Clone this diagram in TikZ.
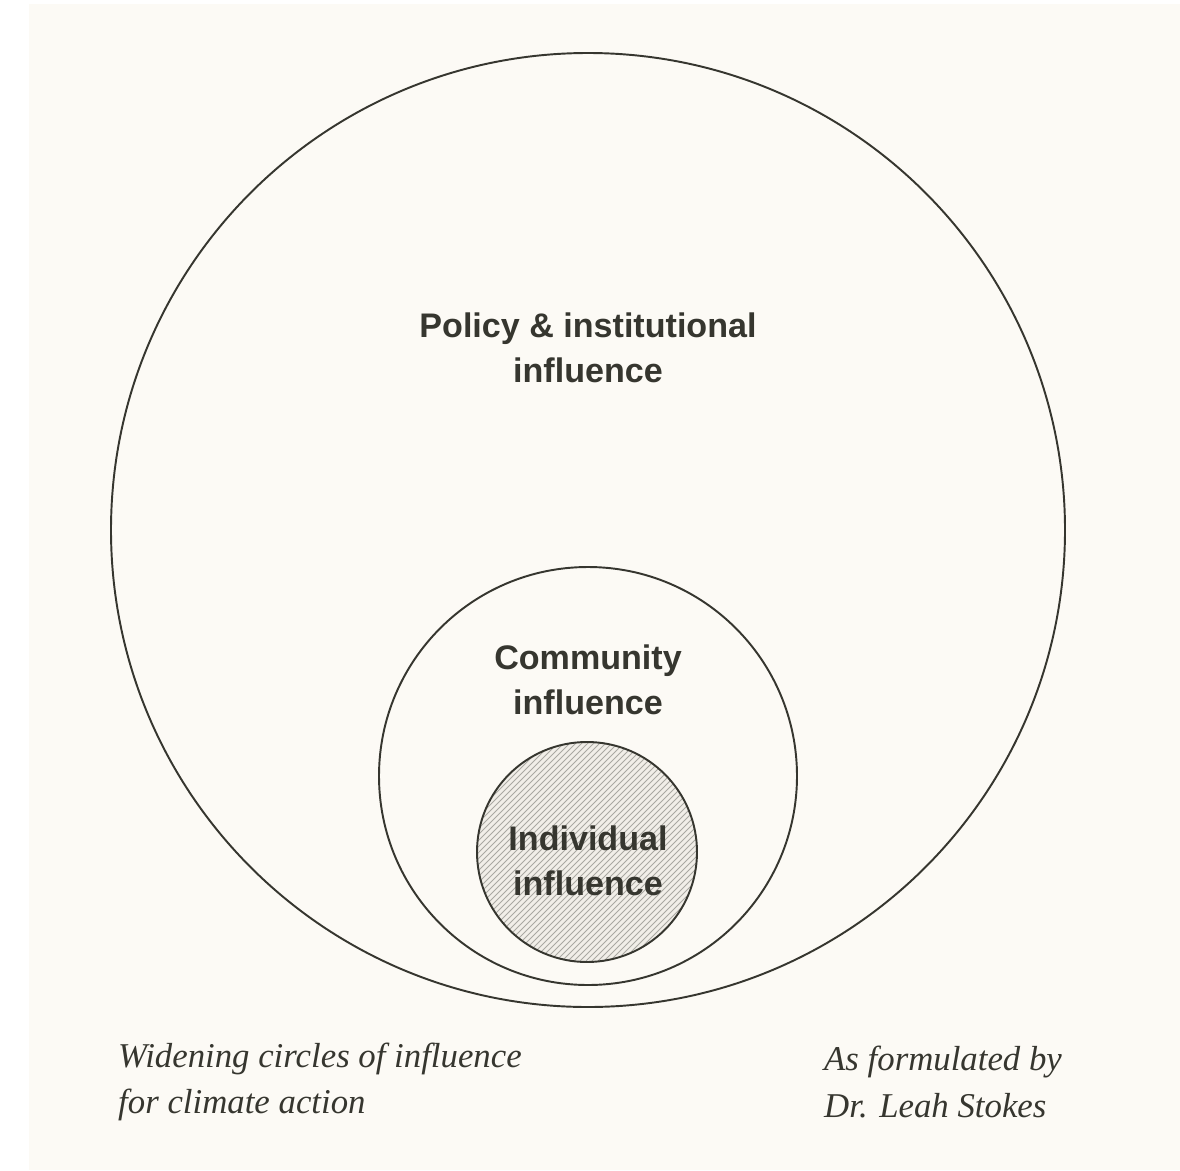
\documentclass[tikz,border=0pt]{standalone}
\usepackage{fontspec}
\setmainfont{Liberation Serif}
\setsansfont{Liberation Sans}
\definecolor{paper}{HTML}{FCFAF5}
\definecolor{ink}{HTML}{36362F}
\definecolor{hatchbg}{HTML}{F1EEE8}
\definecolor{hatchln}{HTML}{A9A8A2}
\begin{document}
\begin{tikzpicture}[x=0.02cm,y=-0.02cm,
	ring/.style={draw=ink,line width=1.1pt},
	lbl/.style={align=center,text=ink,font=\sffamily\bfseries\fontsize{19.4}{25.5}\selectfont},
	note/.style={align=left,anchor=west,text=ink,font=\itshape\fontsize{19.8}{26.6}\selectfont}]
	\useasboundingbox (0,0) rectangle (1180,1170);
	\fill[paper] (29,4) rectangle (1180,1170);
	% individual circle, hatched
	\begin{scope}
		\clip (587,852) circle (110);
		\fill[hatchbg] (587,852) circle (110);
		\foreach \i in {-246,-240,...,246}
			\draw[hatchln,line width=0.45pt] ({587+\i-130},982) -- ({587+\i+130},722);
	\end{scope}
	\draw[ring] (588,530) circle (477);
	\draw[ring] (588,776) circle (209);
	\draw[ring] (587,852) circle (110);
	\node[lbl] (policy) at (588,348) {Policy \& institutional\\influence};
	\node[lbl] (community) at (588,680) {Community\\influence};
	\node[lbl] (individual) at (588,861) {Individual\\influence};
	\node[note] (title) at (112,1082) {Widening circles of influence\\for climate action};
	\node[note] (credit) at (818,1082) {As formulated by\\Dr. Leah Stokes};
\end{tikzpicture}
\end{document}
